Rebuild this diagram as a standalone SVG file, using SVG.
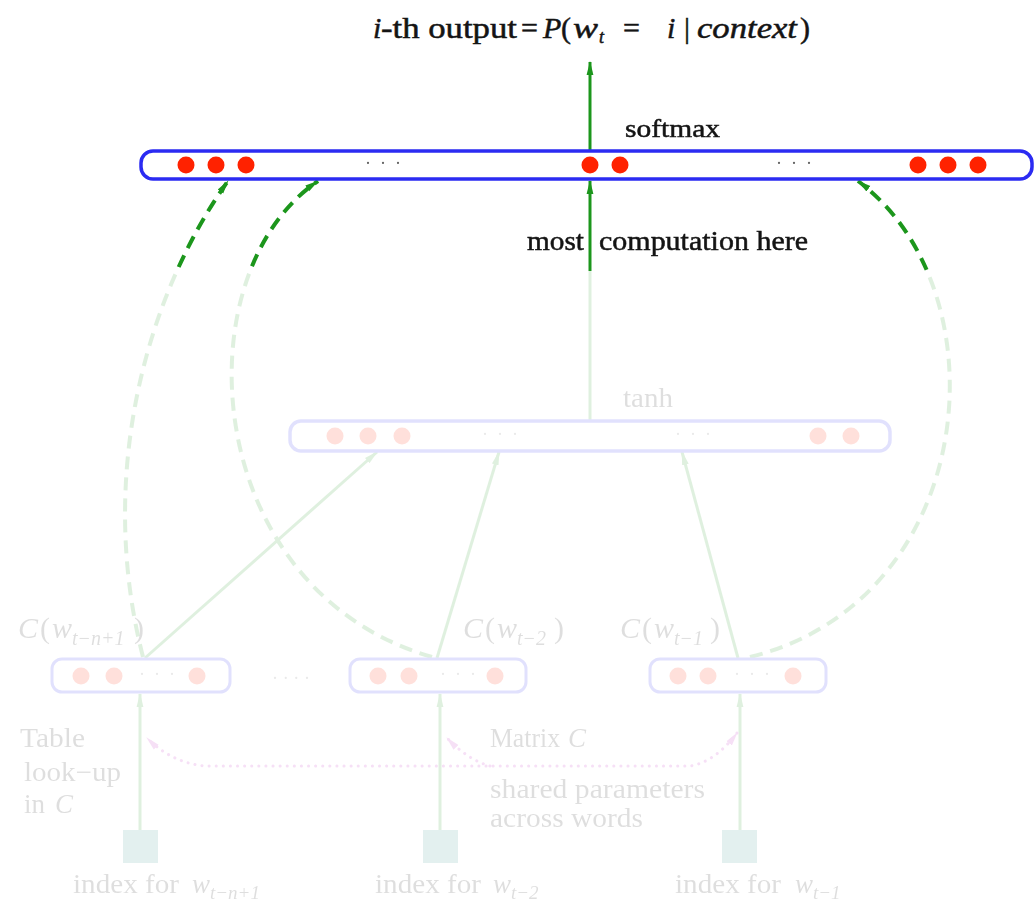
<svg xmlns="http://www.w3.org/2000/svg" width="1035" height="909" viewBox="0 0 1035 909">
  <style>
    .txt { font-family: "Liberation Serif", "Times New Roman", serif; fill: #141414; }
    .bold { stroke: #141414; stroke-width: 0.5; }
    .it { font-style: italic; }
    .flow { fill: none; stroke: #1c961c; stroke-width: 3; }
    .skip { fill: none; stroke: #1c961c; stroke-width: 4; stroke-dasharray: 13 8; }
    .share { fill: none; stroke: #c020c0; stroke-width: 3; stroke-dasharray: 0.1 7; stroke-linecap: round; }
    .layer { fill: #ffffff; stroke: #2b2bf2; stroke-width: 3.5; }
    .emb { fill: #ffffff; stroke: #2b2bf2; stroke-width: 3; }
    .unit { fill: #ff2200; }
    .cdots { font-family: "Liberation Serif", serif; font-size: 18px; fill: #666666; text-anchor: middle; }
    .index { fill: #36958e; }
  </style>
  <defs>
    <marker id="head" viewBox="0 0 14 8" refX="13" refY="4" markerWidth="14" markerHeight="8" markerUnits="userSpaceOnUse" orient="auto-start-reverse">
      <path d="M0,0.6 L14,4 L0,7.4 z" fill="#1c961c"/>
    </marker>
    <marker id="headPink" viewBox="0 0 14 8" refX="13" refY="4" markerWidth="14" markerHeight="8" markerUnits="userSpaceOnUse" orient="auto-start-reverse">
      <path d="M0,0.6 L14,4 L0,7.4 z" fill="#c020c0"/>
    </marker>
    <!-- everything below the output layer is shown washed out -->
    <mask id="fade" maskUnits="userSpaceOnUse" x="0" y="0" width="1035" height="909">
      <rect x="0" y="0" width="1035" height="271" fill="#ffffff"/>
      <rect x="0" y="271" width="1035" height="638" fill="#ffffff" fill-opacity="0.14"/>
    </mask>
  </defs>

  <!-- title -->
  <text id="title" class="txt bold" y="38" font-size="30"><tspan class="it" x="373">i</tspan><tspan x="381" textLength="136" lengthAdjust="spacingAndGlyphs">-th output</tspan><tspan x="521">=</tspan><tspan class="it" x="543">P</tspan><tspan x="561">(</tspan><tspan class="it" x="573" textLength="25" lengthAdjust="spacingAndGlyphs">w</tspan><tspan class="it" x="599" font-size="18" dy="5">t</tspan><tspan x="623" dy="-5">=</tspan><tspan class="it" x="667">i</tspan><tspan x="684">|</tspan><tspan class="it" x="697" textLength="100" lengthAdjust="spacingAndGlyphs">context</tspan><tspan x="800">)</tspan></text>

  <g mask="url(#fade)">
    <!-- connectors -->
    <g id="connectors">
      <line class="flow" x1="590" y1="150" x2="590" y2="62" marker-end="url(#head)"/>
      <line class="flow" x1="590" y1="421" x2="590" y2="181" marker-end="url(#head)"/>
      <path class="skip" d="M143,657 C95,470 150,290 228,181" marker-end="url(#head)"/>
      <path class="skip" d="M432,657 C200,590 180,275 318,181" marker-end="url(#head)"/>
      <path class="skip" d="M750,657 C980,600 1005,290 858,181" marker-end="url(#head)"/>
      <line class="flow" x1="145" y1="658" x2="377" y2="452" marker-end="url(#head)"/>
      <line class="flow" x1="437" y1="658" x2="499" y2="452" marker-end="url(#head)"/>
      <line class="flow" x1="738" y1="658" x2="682" y2="452" marker-end="url(#head)"/>
      <line class="flow" x1="140" y1="830" x2="140" y2="694" marker-end="url(#head)"/>
      <line class="flow" x1="440" y1="830" x2="440" y2="694" marker-end="url(#head)"/>
      <line class="flow" x1="740" y1="830" x2="740" y2="694" marker-end="url(#head)"/>
      <path class="share" d="M737,733 Q715,762 690,766 L205,766 Q172,763 147,738" marker-start="url(#headPink)" marker-end="url(#headPink)"/>
      <path class="share" d="M490,766 Q468,760 447,738" marker-end="url(#headPink)"/>
    </g>

    <!-- output layer -->
    <g id="output-layer">
      <rect class="layer" x="141" y="151" width="891" height="28" rx="12"/>
      <circle class="unit" cx="186" cy="165" r="8.5"/>
      <circle class="unit" cx="216" cy="165" r="8.5"/>
      <circle class="unit" cx="246" cy="165" r="8.5"/>
      <text class="cdots" x="383" y="169" textLength="36" lengthAdjust="spacing">· · ·</text>
      <circle class="unit" cx="590" cy="165" r="8.5"/>
      <circle class="unit" cx="620" cy="165" r="8.5"/>
      <text class="cdots" x="794" y="169" textLength="36" lengthAdjust="spacing">· · ·</text>
      <circle class="unit" cx="918" cy="165" r="8.5"/>
      <circle class="unit" cx="948" cy="165" r="8.5"/>
      <circle class="unit" cx="978" cy="165" r="8.5"/>
      <text class="txt bold" x="625" y="137" font-size="26" textLength="95" lengthAdjust="spacingAndGlyphs">softmax</text>
      <text class="txt bold" x="527" y="250" font-size="27" textLength="57" lengthAdjust="spacingAndGlyphs">most</text>
      <text class="txt bold" x="599" y="250" font-size="27" textLength="209" lengthAdjust="spacingAndGlyphs">computation here</text>
    </g>

    <!-- hidden layer -->
    <g id="hidden-layer">
      <rect class="layer" x="290" y="421" width="600" height="30" rx="11"/>
      <circle class="unit" cx="335" cy="436" r="8.5"/>
      <circle class="unit" cx="368" cy="436" r="8.5"/>
      <circle class="unit" cx="402" cy="436" r="8.5"/>
      <text class="cdots" x="500" y="440" textLength="36" lengthAdjust="spacing">· · ·</text>
      <text class="cdots" x="693" y="440" textLength="36" lengthAdjust="spacing">· · ·</text>
      <circle class="unit" cx="818" cy="436" r="8.5"/>
      <circle class="unit" cx="851" cy="436" r="8.5"/>
      <text class="txt" x="623" y="407" font-size="27" textLength="50" lengthAdjust="spacingAndGlyphs">tanh</text>
    </g>

    <!-- word feature vectors -->
    <g id="emb-t-n1">
      <rect class="emb" x="52" y="659" width="178" height="33" rx="10"/>
      <circle class="unit" cx="81" cy="676" r="8.5"/>
      <circle class="unit" cx="114" cy="676" r="8.5"/>
      <text class="cdots" x="157" y="680" textLength="36" lengthAdjust="spacing">· · ·</text>
      <circle class="unit" cx="197" cy="676" r="8.5"/>
      <text class="txt" y="638" font-size="30"><tspan class="it" x="18">C</tspan><tspan x="40">(</tspan><tspan class="it" x="52">w</tspan><tspan class="it" font-size="20" dy="7">t−n+1</tspan><tspan x="134" dy="-7">)</tspan></text>
    </g>
    <text class="cdots" x="291" y="684" textLength="38" lengthAdjust="spacing">· · · ·</text>
    <g id="emb-t-2">
      <rect class="emb" x="350" y="659" width="176" height="33" rx="10"/>
      <circle class="unit" cx="378" cy="676" r="8.5"/>
      <circle class="unit" cx="409" cy="676" r="8.5"/>
      <text class="cdots" x="458" y="680" textLength="36" lengthAdjust="spacing">· · ·</text>
      <circle class="unit" cx="495" cy="676" r="8.5"/>
      <text class="txt" y="638" font-size="30"><tspan class="it" x="463">C</tspan><tspan x="485">(</tspan><tspan class="it" x="497">w</tspan><tspan class="it" font-size="20" dy="7">t−2</tspan><tspan x="554" dy="-7">)</tspan></text>
    </g>
    <g id="emb-t-1">
      <rect class="emb" x="650" y="659" width="176" height="33" rx="10"/>
      <circle class="unit" cx="678" cy="676" r="8.5"/>
      <circle class="unit" cx="708" cy="676" r="8.5"/>
      <text class="cdots" x="752" y="680" textLength="36" lengthAdjust="spacing">· · ·</text>
      <circle class="unit" cx="793" cy="676" r="8.5"/>
      <text class="txt" y="638" font-size="30"><tspan class="it" x="620">C</tspan><tspan x="642">(</tspan><tspan class="it" x="654">w</tspan><tspan class="it" font-size="20" dy="7">t−1</tspan><tspan x="710" dy="-7">)</tspan></text>
    </g>

    <!-- word indices -->
    <g id="index-t-n1">
      <rect class="index" x="123" y="830" width="35" height="33"/>
      <text class="txt" y="893" font-size="27"><tspan x="73" textLength="106" lengthAdjust="spacingAndGlyphs">index for</tspan><tspan class="it" x="192">w</tspan><tspan class="it" font-size="19" dy="6">t−n+1</tspan></text>
    </g>
    <g id="index-t-2">
      <rect class="index" x="423" y="830" width="35" height="33"/>
      <text class="txt" y="893" font-size="27"><tspan x="375" textLength="106" lengthAdjust="spacingAndGlyphs">index for</tspan><tspan class="it" x="493">w</tspan><tspan class="it" font-size="19" dy="6">t−2</tspan></text>
    </g>
    <g id="index-t-1">
      <rect class="index" x="722" y="830" width="35" height="33"/>
      <text class="txt" y="893" font-size="27"><tspan x="675" textLength="106" lengthAdjust="spacingAndGlyphs">index for</tspan><tspan class="it" x="795">w</tspan><tspan class="it" font-size="19" dy="6">t−1</tspan></text>
    </g>

    <!-- annotations -->
    <g id="notes">
      <text class="txt" x="20" y="747" font-size="27" textLength="65" lengthAdjust="spacingAndGlyphs">Table</text>
      <text class="txt" x="24" y="781" font-size="27" textLength="97" lengthAdjust="spacingAndGlyphs">look−up</text>
      <text class="txt" y="813" font-size="27"><tspan x="24">in</tspan><tspan class="it" x="55">C</tspan></text>
      <text class="txt" y="747" font-size="27"><tspan x="490" textLength="70" lengthAdjust="spacingAndGlyphs">Matrix</tspan><tspan class="it" x="568">C</tspan></text>
      <text class="txt" x="490" y="798" font-size="27" textLength="215" lengthAdjust="spacingAndGlyphs">shared parameters</text>
      <text class="txt" x="490" y="827" font-size="27" textLength="153" lengthAdjust="spacingAndGlyphs">across words</text>
    </g>
  </g>
</svg>
